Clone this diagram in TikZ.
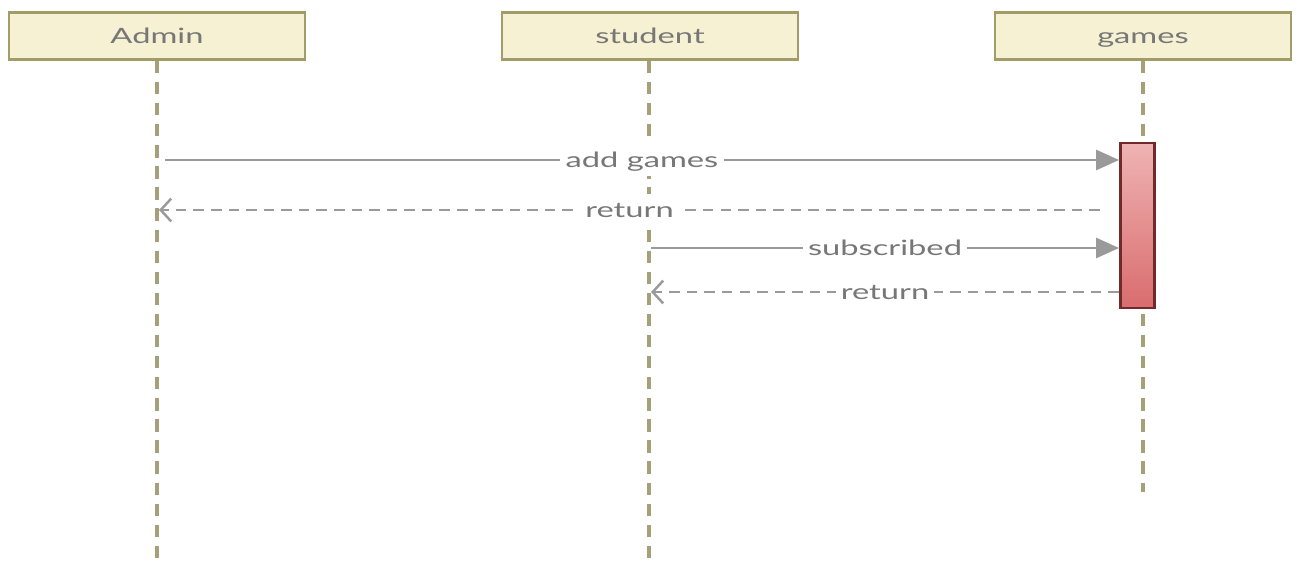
\documentclass[tikz,border=0pt]{standalone}
\usepackage{fontspec}
\setmainfont{Lato}[FakeStretch=1.55]
\usetikzlibrary{arrows.meta}
\definecolor{boxfill}{HTML}{F6F1D3}
\definecolor{boxline}{HTML}{A29C68}
\definecolor{lifeline}{HTML}{A5A078}
\definecolor{msgline}{HTML}{9A9A9A}
\definecolor{msgtext}{HTML}{777777}
\definecolor{actline}{HTML}{702A2A}
\definecolor{acttop}{HTML}{EFB3B3}
\definecolor{actbot}{HTML}{D96C6E}
\tikzset{
  actor/.style={draw=boxline,fill=boxfill,line width=1.6pt,minimum width=5.92cm,minimum height=0.94cm,text height=10pt,text depth=2pt,text=msgtext,font=\fontsize{12}{14}\selectfont},
  life/.style={lifeline,line width=1.8pt,dash pattern=on 7pt off 5pt},
  call/.style={msgline,line width=1pt,-{Triangle[length=13pt,width=11.5pt]}},
  reply/.style={msgline,line width=1pt,dash pattern=on 6pt off 4pt,-{Straight Barb[length=6pt,width=13pt,line width=1.4pt]}},
  msglabel/.style={fill=white,text=msgtext,inner sep=3pt,text height=10pt,text depth=2pt,font=\fontsize{12}{14}\selectfont}
}
\begin{document}
\begin{tikzpicture}[x=0.02cm,y=-0.02cm]
    \useasboundingbox (0,0) rectangle (1298,567);

    % participants
    \node[actor] (admin) at (157,36) {Admin};
    \node[actor] (student) at (650,36) {student};
    \node[actor] (games) at (1143,36) {games};

    % lifelines
    \coordinate (adminend) at (157,567);
    \coordinate (studentend) at (649,567);
    \coordinate (gamesend) at (1143,492);
    \draw[life] (admin.south -| adminend) -- (adminend);
    \draw[life] (student.south -| studentend) -- (studentend);
    \draw[life] (games.south -| gamesend) -- (gamesend);

    % activation of games
    \node[draw=actline,line width=1.3pt,top color=acttop,bottom color=actbot,minimum width=0.68cm,minimum height=3.3cm,inner sep=0pt] (act) at (1137.5,225.5) {};

    % messages
    \coordinate (a1) at (165,160);
    \coordinate (g1) at (1119,160);
    \coordinate (g2) at (1100,210);
    \coordinate (a2) at (159,210);
    \coordinate (s1) at (651,248);
    \coordinate (g3) at (1119,248);
    \coordinate (g4) at (1119,292);
    \coordinate (s2) at (651,292);

    \draw[call] (a1) -- node[msglabel] (addgames) {add games} (g1);
    \draw[reply] (g2) -- node[msglabel] (ret1) {return} (a2);
    \draw[call] (s1) -- node[msglabel] (subscr) {subscribed} (g3);
    \draw[reply] (g4) -- node[msglabel] (ret2) {return} (s2);
\end{tikzpicture}
\end{document}
